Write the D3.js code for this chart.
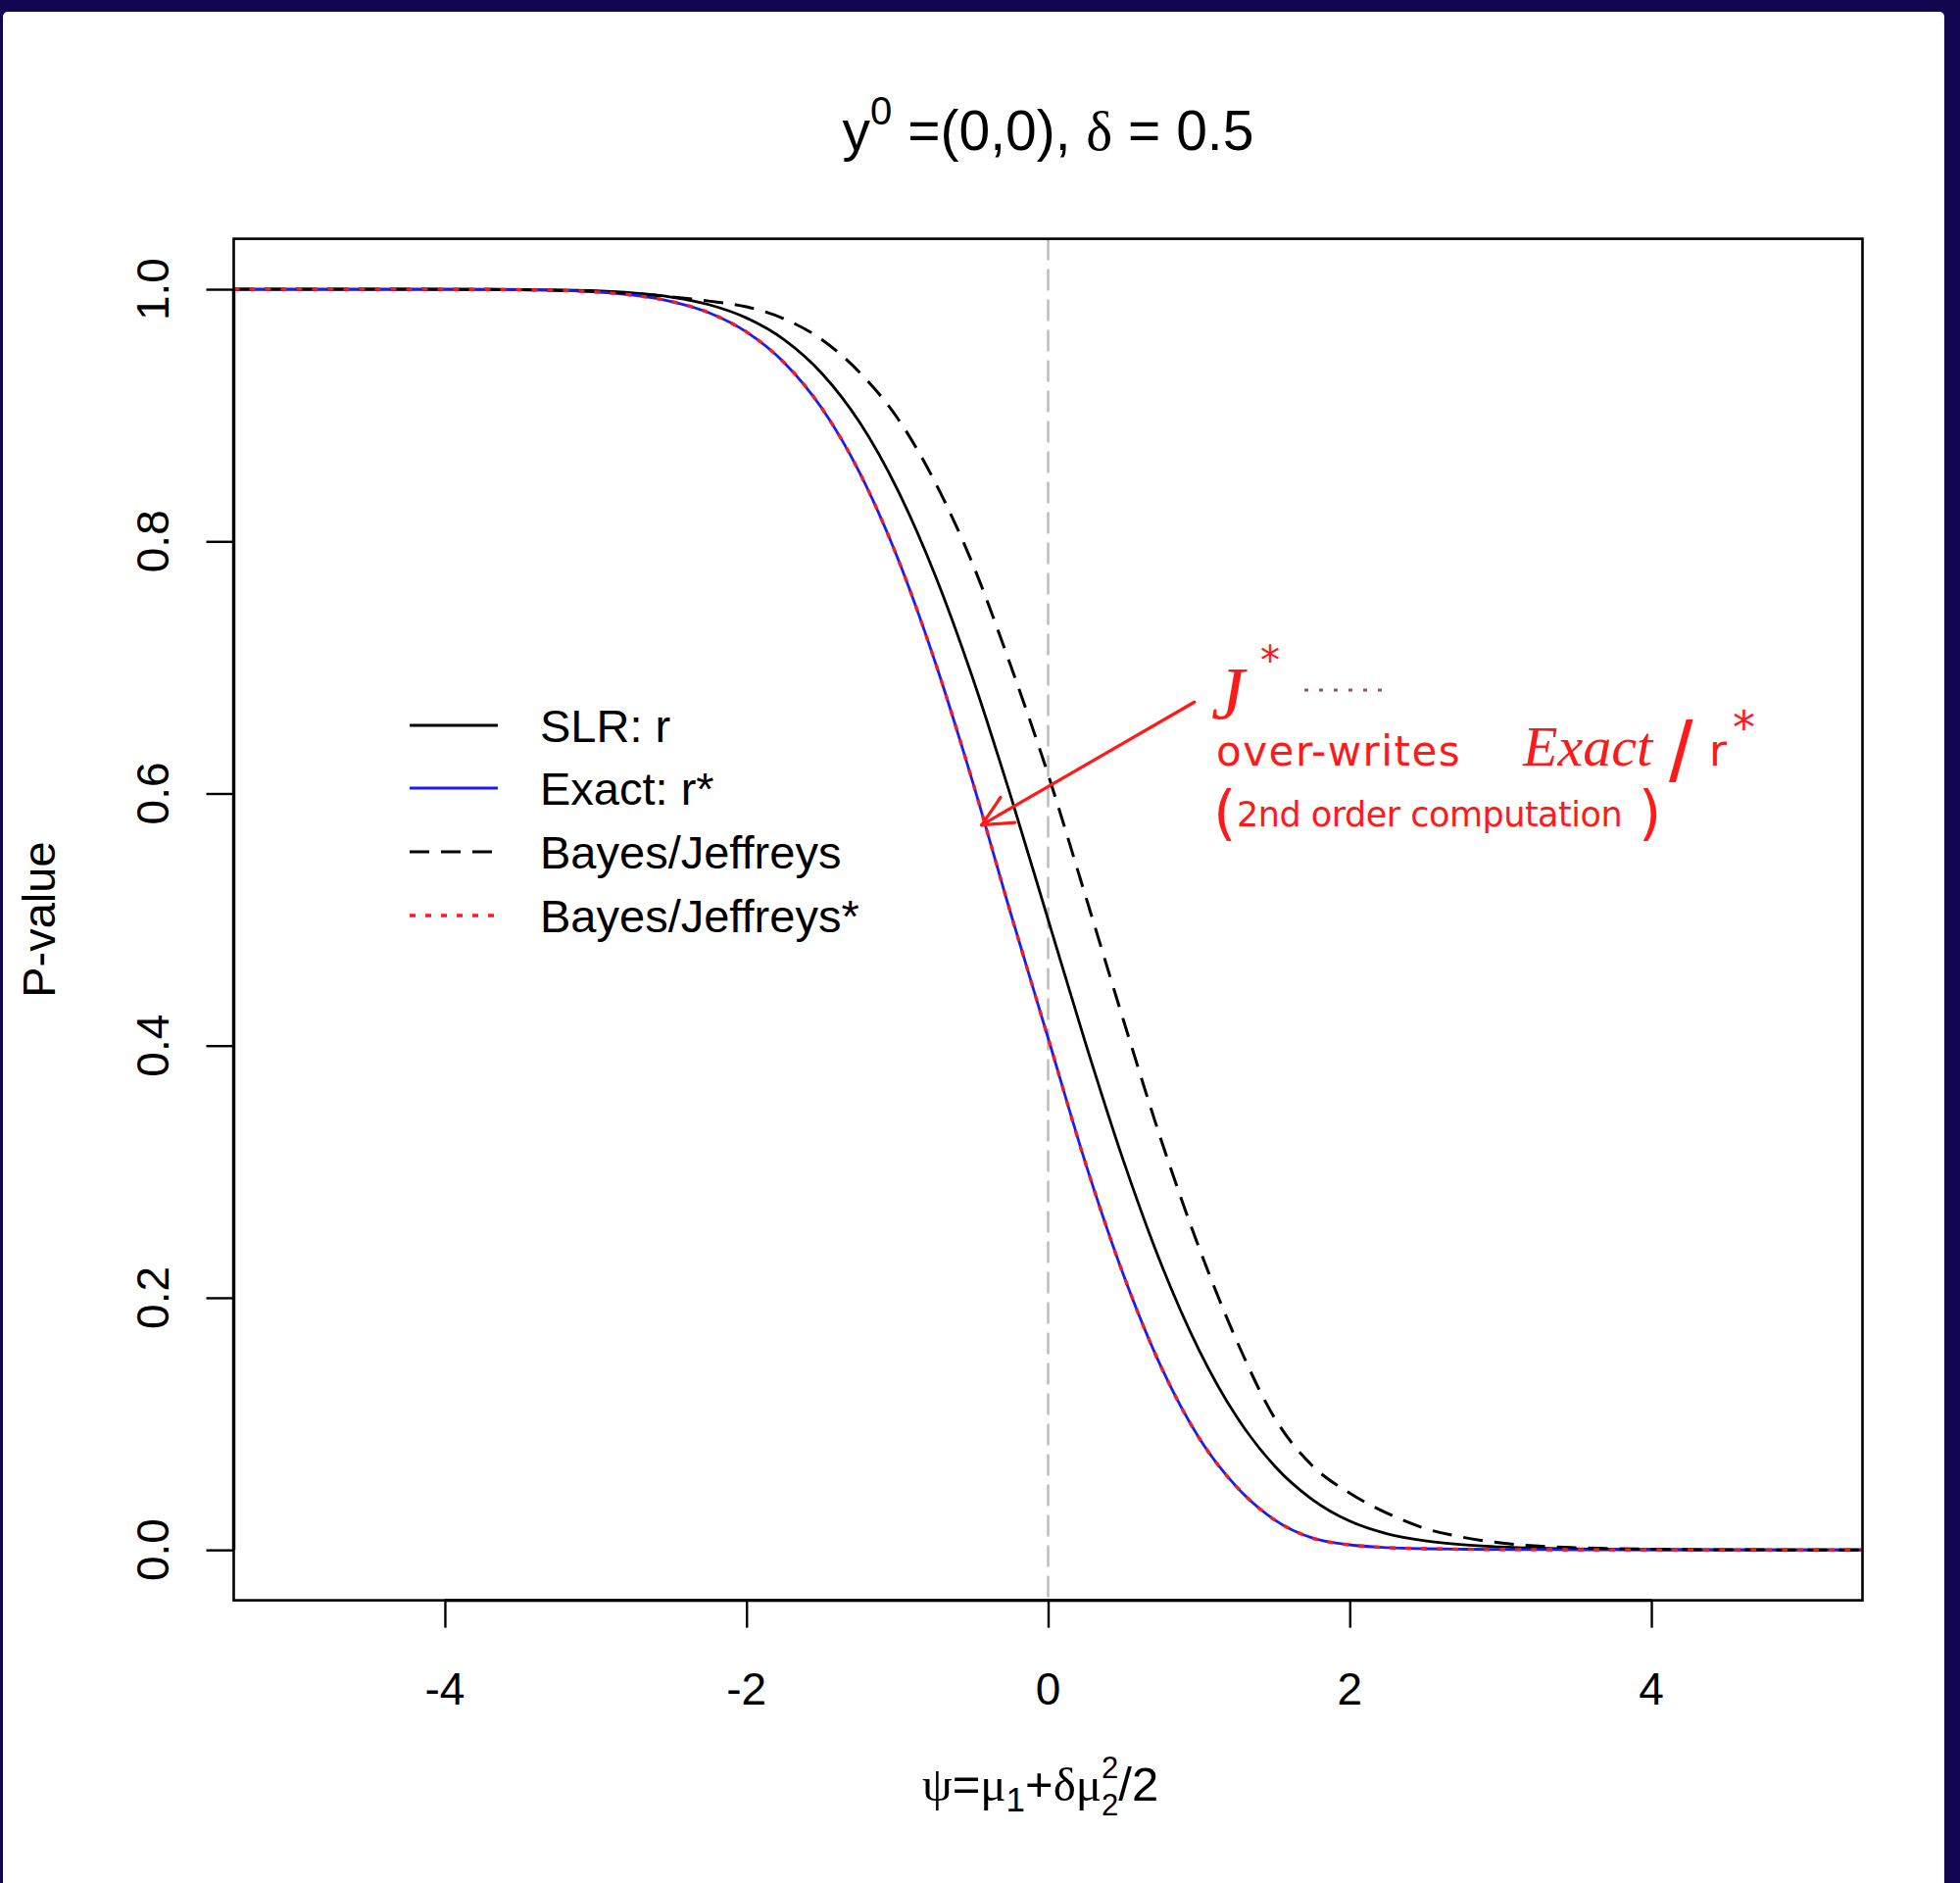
<!DOCTYPE html>
<html>
<head>
<meta charset="utf-8">
<script src="https://cdn.jsdelivr.net/npm/d3@7/dist/d3.min.js"></script>
<style>
  html, body { margin: 0; padding: 0; background: #ffffff; }
  svg { display: block; }
</style>
</head>
<body>
<svg id="chart" width="2000" height="1921"></svg>
<script>
// psi grid (interest parameter) and the four p-value functions
const psi = [-5.4, -5, -4.5, -4, -3.75, -3.5, -3.25, -3, -2.75, -2.5, -2.25, -2, -1.75, -1.5, -1.25, -1,
             -0.75, -0.5, -0.25, 0, 0.25, 0.5, 0.75, 1, 1.25, 1.5, 1.75, 2, 2.25, 2.5, 2.75, 3, 3.25,
             3.5, 4, 4.5, 5, 5.4];

// SLR: r
const pSLR = [1.0000, 1.0000, 1.0000, 1.0000, 0.9999, 0.9998, 0.9994, 0.9987, 0.9970, 0.9938, 0.9878,
              0.9772, 0.9599, 0.9332, 0.8944, 0.8413, 0.7734, 0.6915, 0.5987, 0.5000, 0.4013, 0.3085,
              0.2266, 0.1587, 0.1056, 0.0668, 0.0401, 0.0228, 0.0127, 0.0072, 0.0041, 0.0023, 0.0013,
              0.0008, 0.0003, 0.0001, 0.0000, 0.0000];

// Exact: r*
const pExact = [1.0000, 1.0000, 1.0000, 0.9999, 0.9998, 0.9996, 0.9990, 0.9978, 0.9952, 0.9903, 0.9814,
                0.9661, 0.9418, 0.9055, 0.8545, 0.7874, 0.7046, 0.6091, 0.5057, 0.4060, 0.3060, 0.2180,
                0.1450, 0.0890, 0.0500, 0.0240, 0.0095, 0.0040, 0.0018, 0.0009, 0.0005, 0.0003, 0.0002,
                0.0001, 0.0000, 0.0000, 0.0000, 0.0000];

// Bayes/Jeffreys
const pBayes = [1.0000, 1.0000, 1.0000, 0.9999, 0.9998, 0.9996, 0.9991, 0.9982, 0.9966, 0.9940, 0.9906,
                0.9860, 0.9765, 0.9600, 0.9340, 0.8980, 0.8470, 0.7820, 0.7020, 0.6150, 0.5180, 0.4200,
                0.3250, 0.2400, 0.1660, 0.1050, 0.0670, 0.0450, 0.0290, 0.0170, 0.0100, 0.0055, 0.0030,
                0.0017, 0.0005, 0.0001, 0.0000, 0.0000];

// Bayes/Jeffreys*
const pBayesStar = [1.0000, 1.0000, 1.0000, 0.9999, 0.9998, 0.9996, 0.9990, 0.9978, 0.9952, 0.9903, 0.9814,
                    0.9661, 0.9418, 0.9055, 0.8545, 0.7874, 0.7046, 0.6091, 0.5057, 0.4060, 0.3060, 0.2180,
                    0.1450, 0.0890, 0.0500, 0.0240, 0.0095, 0.0040, 0.0018, 0.0009, 0.0005, 0.0003, 0.0002,
                    0.0001, 0.0000, 0.0000, 0.0000, 0.0000];

const xTicks = [-4, -2, 0, 2, 4];
const xTickLabels = ["-4", "-2", "0", "2", "4"];
const yTicks = [0, 0.2, 0.4, 0.6, 0.8, 1.0];
const yTickLabels = ["0.0", "0.2", "0.4", "0.6", "0.8", "1.0"];

const legendLabels = ["SLR: r", "Exact: r*", "Bayes/Jeffreys", "Bayes/Jeffreys*"];

// ---- layout -------------------------------------------------------------
const W = 2000, H = 1921;
const box = { left: 238.5, right: 1900.5, top: 243.6, bottom: 1632.6 };
const FONT = "'Liberation Sans', Arial, Helvetica, sans-serif";
const GREEK = "'Liberation Serif', 'DejaVu Serif', serif";
const NAVY = "#120650";
const RED = "#ff1a1a";

const svg = d3.select("#chart");

// window frame
svg.append("rect").attr("x", 0).attr("y", 0).attr("width", W).attr("height", H).attr("fill", NAVY);
svg.append("rect").attr("x", 3).attr("y", 12).attr("width", W - 3 - 16).attr("height", H - 12 + 10)
   .attr("rx", 5).attr("fill", "#ffffff");

const x = d3.scaleLinear().domain([-5.4, 5.4]).range([box.left, box.right]);
const y = d3.scaleLinear().domain([-0.04, 1.04]).range([box.bottom, box.top]);

svg.append("clipPath").attr("id", "plotclip")
   .append("rect").attr("x", box.left).attr("y", box.top)
   .attr("width", box.right - box.left).attr("height", box.bottom - box.top);

const plot = svg.append("g").attr("clip-path", "url(#plotclip)");

// reference line at psi = 0
plot.append("line")
    .attr("x1", x(0)).attr("x2", x(0)).attr("y1", box.top).attr("y2", box.bottom)
    .attr("stroke", "#bdbdbd").attr("stroke-width", 2.5).attr("stroke-dasharray", "22,9");

const line = d3.line().x(d => x(d[0])).y(d => y(d[1])).curve(d3.curveMonotoneX);
const series = [
  { values: pSLR,       color: "#000000", dash: null,    width: 2.8 },
  { values: pExact,     color: "#1a1aff", dash: null,    width: 2.8 },
  { values: pBayes,     color: "#000000", dash: "20,12", width: 3.0 },
  { values: pBayesStar, color: RED,       dash: "6,10",  width: 3.4 }
];
series.forEach(s => {
  plot.append("path")
      .datum(psi.map((p, i) => [p, s.values[i]]))
      .attr("d", line)
      .attr("fill", "none")
      .attr("stroke", s.color)
      .attr("stroke-width", s.width)
      .attr("stroke-dasharray", s.dash);
});

// plot box
svg.append("rect")
   .attr("x", box.left).attr("y", box.top)
   .attr("width", box.right - box.left).attr("height", box.bottom - box.top)
   .attr("fill", "none").attr("stroke", "#000").attr("stroke-width", 2.6);

// x axis
const xAxis = d3.axisBottom(x).tickValues(xTicks).tickSize(28).tickSizeOuter(0).tickFormat("");
const gx = svg.append("g").attr("transform", `translate(0,${box.bottom})`).call(xAxis);
gx.select(".domain").remove();
gx.selectAll(".tick line").attr("stroke", "#000").attr("stroke-width", 2.4);
svg.append("line").attr("x1", x(xTicks[0])).attr("x2", x(xTicks[xTicks.length - 1]))
   .attr("y1", box.bottom).attr("y2", box.bottom).attr("stroke", "#000").attr("stroke-width", 3.4);
svg.append("g").selectAll("text").data(xTicks).join("text")
   .attr("x", d => x(d)).attr("y", 1739)
   .attr("text-anchor", "middle").attr("font-family", FONT).attr("font-size", 46)
   .text((d, i) => xTickLabels[i]);

// y axis
const yAxis = d3.axisLeft(y).tickValues(yTicks).tickSize(28).tickSizeOuter(0).tickFormat("");
const gy = svg.append("g").attr("transform", `translate(${box.left},0)`).call(yAxis);
gy.select(".domain").remove();
gy.selectAll(".tick line").attr("stroke", "#000").attr("stroke-width", 2.4);
svg.append("line").attr("x1", box.left).attr("x2", box.left)
   .attr("y1", y(yTicks[0])).attr("y2", y(yTicks[yTicks.length - 1]))
   .attr("stroke", "#000").attr("stroke-width", 3.4);
svg.append("g").selectAll("text").data(yTicks).join("text")
   .attr("transform", d => `translate(172,${y(d)}) rotate(-90)`)
   .attr("text-anchor", "middle").attr("font-family", FONT).attr("font-size", 46)
   .text((d, i) => yTickLabels[i]);

// axis titles
svg.append("text").attr("transform", `translate(56,${(box.top + box.bottom) / 2}) rotate(-90)`)
   .attr("text-anchor", "middle").attr("font-family", FONT).attr("font-size", 47)
   .text("P-value");

const xl = svg.append("text").attr("x", 941).attr("y", 1837)
   .attr("font-family", FONT).attr("font-size", 49);
xl.append("tspan").attr("font-family", GREEK).text("\u03C8");
xl.append("tspan").text("=");
xl.append("tspan").attr("font-family", GREEK).text("\u03BC");
xl.append("tspan").attr("font-size", 35).attr("dy", 11).text("1");
xl.append("tspan").attr("dy", -11).text("+");
xl.append("tspan").attr("font-family", GREEK).text("\u03B4\u03BC");
xl.append("tspan").attr("font-size", 31).attr("dy", -23).text("2");
xl.append("tspan").attr("font-size", 31).attr("dx", -17.2).attr("dy", 38).text("2");
xl.append("tspan").attr("dy", -15).text("/2");

// title
const tt = svg.append("text").attr("x", 1069.5).attr("y", 153)
   .attr("text-anchor", "middle").attr("font-family", FONT).attr("font-size", 57);
tt.append("tspan").text("y");
tt.append("tspan").attr("font-size", 40).attr("dy", -26).text("0");
tt.append("tspan").attr("dy", 26).text(" =(0,0), ");
tt.append("tspan").attr("font-family", GREEK).text("\u03B4");
tt.append("tspan").text(" = 0.5");

// legend
const legendY = [740, 804, 869, 934];
const lg = svg.append("g");
series.forEach((s, i) => {
  lg.append("line").attr("x1", 418).attr("x2", 508).attr("y1", legendY[i]).attr("y2", legendY[i])
    .attr("stroke", s.color).attr("stroke-width", s.width).attr("stroke-dasharray", s.dash);
  lg.append("text").attr("x", 551).attr("y", legendY[i] + 17)
    .attr("font-family", FONT).attr("font-size", 47).text(legendLabels[i]);
});

// handwritten note with arrow pointing at the r* curve
const note = svg.append("g").attr("fill", RED).attr("font-family", "'DejaVu Sans', sans-serif");
const tail = [x(0.97), y(0.6725)];
const tip = [x(-0.44), y(0.575)];
note.append("line").attr("x1", tail[0]).attr("y1", tail[1]).attr("x2", tip[0]).attr("y2", tip[1])
    .attr("stroke", RED).attr("stroke-width", 3.2).attr("stroke-linecap", "round");
const ang = Math.atan2(tail[1] - tip[1], tail[0] - tip[0]);
[-0.45, 0.45].forEach(da => {
  note.append("line").attr("x1", tip[0]).attr("y1", tip[1])
      .attr("x2", tip[0] + 34 * Math.cos(ang + da)).attr("y2", tip[1] + 34 * Math.sin(ang + da))
      .attr("stroke", RED).attr("stroke-width", 3.2).attr("stroke-linecap", "round");
});
note.append("text").attr("x", 1236).attr("y", 733).attr("font-size", 76)
    .attr("font-family", "'Liberation Serif', serif").attr("font-style", "italic").text("J");
note.append("text").attr("x", 1286).attr("y", 688).attr("font-size", 40).text("*");
note.append("line").attr("x1", 1331).attr("x2", 1418).attr("y1", 704).attr("y2", 704)
    .attr("stroke", "#9a5066").attr("stroke-width", 3.2).attr("stroke-dasharray", "4,11");
note.append("text").attr("x", 1241).attr("y", 781).attr("font-size", 42).attr("letter-spacing", 1.5)
    .text("over-writes");
note.append("text").attr("x", 1554).attr("y", 781).attr("font-size", 58)
    .attr("font-family", "'Liberation Serif', serif").attr("font-style", "italic").text("Exact");
note.append("text").attr("x", 1703).attr("y", 797).attr("font-size", 88)
    .attr("font-family", "'Liberation Sans', sans-serif").text("/");
note.append("text").attr("x", 1744).attr("y", 781).attr("font-size", 44).text("r");
note.append("text").attr("x", 1768).attr("y", 758).attr("font-size", 46).text("*");
note.append("text").attr("x", 1238).attr("y", 850).attr("font-size", 60).text("(");
note.append("text").attr("x", 1262).attr("y", 843).attr("font-size", 35).attr("letter-spacing", -0.5)
    .text("2nd order computation");
note.append("text").attr("x", 1672).attr("y", 850).attr("font-size", 60).text(")");
</script>
</body>
</html>
